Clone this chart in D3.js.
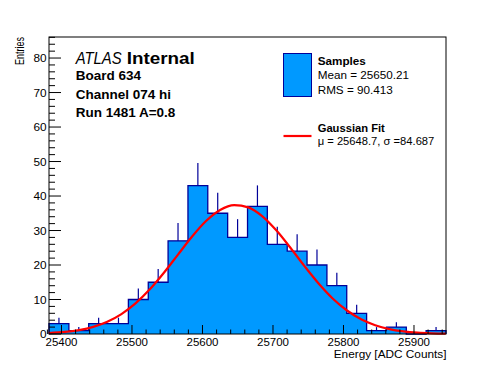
<!DOCTYPE html>
<html><head><meta charset="utf-8">
<script src="https://cdn.jsdelivr.net/npm/d3@7"></script>
<style>
html,body{margin:0;padding:0;background:#fff;}
svg{display:block;font-family:"Liberation Sans",Arial,Helvetica,sans-serif;}
</style></head>
<body>
<svg id="c" width="496" height="372"></svg>
<script>
// ---- data ----
const binEdges = [25382.3,25410.5,25438.6,25466.8,25494.9,25523.1,25551.2,25579.4,25607.5,25635.7,25663.9,25692.0,25720.2,25748.3,25776.5,25804.6,25832.8,25860.9,25889.1,25917.2,25945.4];
const counts = [3,1,3,3,10,15,27,43,35,28,37,26,24,20,14,6,1,2,0,1];
const fitX = [25382,25405,25425,25445,25465,25485,25505,25525,25545,25565,25585,25605,25625,25645,25665,25685,25705,25725,25745,25765,25785,25805,25825,25845,25865,25885,25905,25925,25945];
const fitY = [0.27,0.59,1.14,2.07,3.56,5.78,8.86,12.87,17.67,22.95,28.18,32.74,35.96,37.36,36.72,34.12,29.98,24.92,19.59,14.57,10.24,6.81,4.28,2.55,1.43,0.76,0.38,0.18,0.08];
const xTicks = [25400,25500,25600,25700,25800,25900];
const yTicks = [0,10,20,30,40,50,60,70,80];
const xDomain = [25382.3,25945.4];
const yDomain = [0,86.1];
const infoLines = ["Board 634","Channel 074 hi","Run 1481 A=0.8"];
const legendSamples = ["Samples","Mean = 25650.21","RMS = 90.413"];
const legendFit = ["Gaussian Fit","\u03bc = 25648.7, \u03c3 =84.687"];

// ---- layout ----
const L=49,R=446,T=37,B=334;
const fill="#0099ff", line="#000099";
const svg=d3.select("#c");
const x=d3.scaleLinear().domain(xDomain).range([L,R]);
const y=d3.scaleLinear().domain(yDomain).range([B,T]);

// error bars (drawn first; the lower half is hidden by the fill)
svg.append("g").selectAll("line").data(counts.map((c,i)=>({c,i})).filter(d=>d.c>0)).join("line")
  .attr("x1",d=>x((binEdges[d.i]+binEdges[d.i+1])/2)).attr("x2",d=>x((binEdges[d.i]+binEdges[d.i+1])/2))
  .attr("y1",d=>y(d.c-Math.sqrt(d.c))).attr("y2",d=>y(d.c+Math.sqrt(d.c)))
  .attr("stroke",line).attr("stroke-width",1.2);

// histogram step points
const pts=[[binEdges[0],0]];
counts.forEach((c,i)=>{pts.push([binEdges[i],c]);pts.push([binEdges[i+1],c]);});
pts.push([binEdges[binEdges.length-1],0]);
const stepLine=d3.line().x(d=>x(d[0])).y(d=>y(d[1]));

// histogram fill (one area, no seams)
svg.append("path").attr("d",stepLine(pts)+"Z").attr("fill",fill).attr("stroke","none");
// histogram outline
svg.append("path").attr("d",stepLine(pts))
  .attr("fill","none").attr("stroke",line).attr("stroke-width",1.3);

// gaussian fit curve
svg.append("path").attr("d",d3.line().x((d,i)=>x(fitX[i])).y(d=>y(d)).curve(d3.curveMonotoneX)(fitY))
  .attr("fill","none").attr("stroke","#ff0000").attr("stroke-width",2.2);

// frame
svg.append("rect").attr("x",L).attr("y",T).attr("width",R-L).attr("height",B-T)
  .attr("fill","none").attr("stroke","#000").attr("stroke-width",1);

// x axis ticks
const xMinor=d3.range(25380,25946,20);
svg.append("g").selectAll("line").data(xMinor).join("line")
  .attr("x1",d=>x(d)).attr("x2",d=>x(d)).attr("y1",B).attr("y2",d=>B-(d%100===0?9:4.5))
  .attr("stroke","#000").attr("stroke-width",1);
svg.append("g").selectAll("text").data(xTicks).join("text")
  .attr("x",d=>x(d)).attr("y",346).attr("text-anchor","middle").attr("font-size",11.5).text(d=>d);

// y axis ticks
const yMinor=d3.range(0,86.1,2);
svg.append("g").selectAll("line").data(yMinor).join("line")
  .attr("x1",L).attr("x2",d=>L+(d%10===0?12:6)).attr("y1",d=>y(d)).attr("y2",d=>y(d))
  .attr("stroke","#000").attr("stroke-width",1);
svg.append("g").selectAll("text").data(yTicks).join("text")
  .attr("x",46.5).attr("y",d=>y(d)+4).attr("text-anchor","end").attr("font-size",11.8).text(d=>d);

// axis titles
svg.append("text").attr("x",R+0.5).attr("y",358).attr("text-anchor","end").attr("font-size",11.8).text("Energy [ADC Counts]");
svg.append("text").attr("transform","translate(24,37) rotate(-90)").attr("text-anchor","end")
  .attr("font-size",12).attr("textLength",28).attr("lengthAdjust","spacingAndGlyphs").text("Entries");

// ATLAS label
svg.append("text").attr("x",75.7).attr("y",64).attr("font-size",16).attr("font-style","italic")
  .attr("textLength",46).attr("lengthAdjust","spacingAndGlyphs").text("ATLAS");
svg.append("text").attr("x",126.7).attr("y",64).attr("font-size",16).attr("font-weight","bold")
  .attr("textLength",68).attr("lengthAdjust","spacingAndGlyphs").text("Internal");
svg.append("g").selectAll("text").data(infoLines).join("text")
  .attr("x",75.7).attr("y",(d,i)=>80+i*18.5).attr("font-size",13.5).attr("font-weight","bold").text(d=>d);

// legend
svg.append("rect").attr("x",283.5).attr("y",53.5).attr("width",28).attr("height",43)
  .attr("fill",fill).attr("stroke",line).attr("stroke-width",1);
svg.append("g").selectAll("text").data(legendSamples).join("text")
  .attr("x",317.7).attr("y",(d,i)=>65+i*14.3).attr("font-size",11.7)
  .attr("font-weight",(d,i)=>i===0?"bold":"normal").text(d=>d);
svg.append("line").attr("x1",283.5).attr("x2",311.5).attr("y1",136).attr("y2",136)
  .attr("stroke","#ff0000").attr("stroke-width",2.2);
svg.append("g").selectAll("text").data(legendFit).join("text")
  .attr("x",317.7).attr("y",(d,i)=>132+i*13).attr("font-size",11.2)
  .attr("font-weight",(d,i)=>i===0?"bold":"normal").text(d=>d);
</script>
</body></html>
